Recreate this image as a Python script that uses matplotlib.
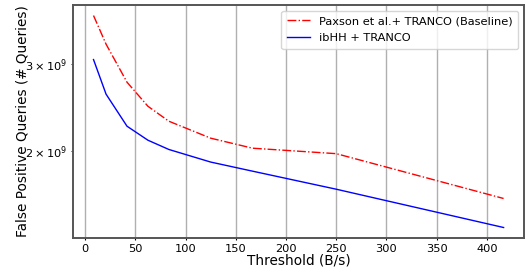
import matplotlib
matplotlib.use("Agg")
import matplotlib.pyplot as plt

thresholds = [8.33, 20.83, 41.67, 62.5, 83.33, 125.0, 166.67, 250.0, 416.67]
baseline = [3.765e9, 3.294e9, 2.759e9, 2.466e9, 2.30e9, 2.125e9, 2.028e9, 1.977e9, 1.604e9]
ibhh = [3.066e9, 2.609e9, 2.247e9, 2.105e9, 2.016e9, 1.901e9, 1.822e9, 1.675e9, 1.401e9]
xticks = [0, 50, 100, 150, 200, 250, 300, 350, 400]

fs = 8.2
lfs = 9.8
fig = plt.figure(figsize=(5.31, 2.74), dpi=100)
ax = fig.add_axes([0.1375, 0.131, 0.8495, 0.851])

ax.plot(thresholds, baseline, color='red', linestyle='-.', linewidth=1.0,
        label='Paxson et al.+ TRANCO (Baseline)')
ax.plot(thresholds, ibhh, color='blue', linestyle='-', linewidth=1.0,
        label='ibHH + TRANCO')

ax.set_yscale('log')
ax.set_xticks(xticks)
ax.grid(True, axis='x', color='#b0b0b0', linewidth=1.0)
ax.set_axisbelow(True)
ax.tick_params(which='both', labelsize=fs, length=1.3, pad=2.6)
ax.set_xlabel('Threshold (B/s)', fontsize=lfs)
ax.set_ylabel('False Positive Queries (# Queries)', fontsize=lfs)
ax.xaxis.set_label_coords(0.5, -0.066)
ax.yaxis.set_label_coords(-0.0965, 0.5)
for s in ax.spines.values():
    s.set_color('#555555')
    s.set_linewidth(1.4)

ax.legend(loc='upper right', fontsize=fs, labelspacing=0.62, borderpad=0.5)
fig.savefig('out.png', dpi=100)
